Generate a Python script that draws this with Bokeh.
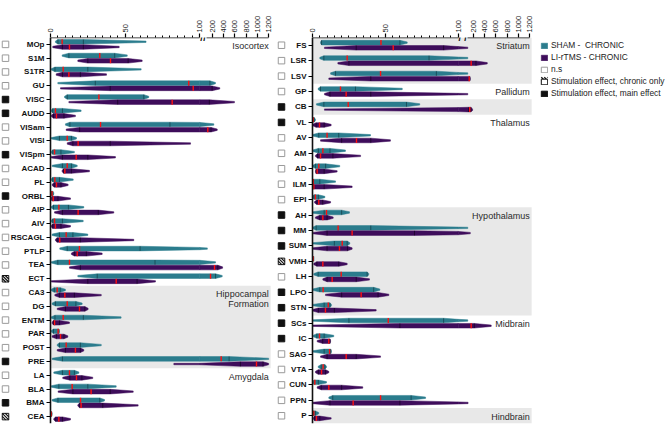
import numpy as np
from bokeh.plotting import figure
from bokeh.models import Range1d, FixedTicker, LinearAxis, Label, Legend, LegendItem
from bokeh.layouts import row
from bokeh.embed import file_html
from bokeh.resources import INLINE
from bokeh.core.properties import value

# ---------------- data ----------------
AXIS_TITLE = "C-Fos⁺ Density (cells/mm²)"
X_LABELED = [0, 50, 100, 200, 400, 600, 800, 1000, 1200]
X_MINOR = list(range(5, 100, 5))

LEFT_REGIONS = ["MOp", "S1M", "S1TR", "GU", "VISC", "AUDD", "VISam", "VISl", "VISpm", "ACAD",
                "PL", "ORBL", "AIP", "AIV", "RSCAGL", "PTLP", "TEA", "ECT", "CA3", "DG",
                "ENTM", "PAR", "POST", "PRE", "LA", "BLA", "BMA", "CEA"]
LEFT_EFFECT = ["ns", "ns", "ns", "ns", "main", "main", "ns", "ns", "main", "ns",
               "ns", "main", "ns", "ns", "ns", "ns", "ns", "chronic", "ns", "ns",
               "ns", "ns", "ns", "main", "ns", "ns", "main", "chronic"]
# (min, q1, median, q3, max)
LEFT_SHAM = [(3.3, 5, 7.8, 22, 64), (7.8, 12.3, 33, 43, 51.4), (0.5, 3, 8.5, 25, 60.7),
             (4.9, 30, 92.6, 160, 259), (9.4, 11.2, 32.4, 62.5, 65.8), (0.5, 1.5, 3.3, 8, 20.5),
             (10, 13, 33.5, 80, 230), (0.5, 6, 11.2, 14, 17.4), (0.5, 1.5, 2.7, 7, 16),
             (1.1, 8, 11.2, 14, 17.9), (0.5, 1.5, 2.9, 6, 15.2), (0.3, 0.6, 1, 1.5, 2.2),
             (0.5, 2, 5.6, 12, 22.3), (0.5, 1.5, 2.7, 8, 21.9), (1.1, 6, 10.5, 15, 25),
             (6.2, 11.2, 19.4, 60, 115), (0.5, 4.9, 12.7, 70, 260), (18.3, 31.3, 171, 260, 378),
             (0.5, 2.5, 4.5, 6.5, 10), (1.1, 3.3, 11.2, 17, 21.2), (0.5, 3, 8.5, 22, 47.3),
             (0.5, 2, 5.1, 5.6, 6), (4.5, 6, 10.5, 20, 34), (1.1, 8, 360, 500, 1200),
             (2.2, 8, 12.7, 16, 19), (0.5, 5.6, 14.5, 25, 44), (1.1, 5, 20.1, 33, 36.2),
             (0.0, 0.3, 0.5, 0.8, 1.1)]
LEFT_LITMS = [(1.5, 8, 12.7, 22, 46), (18.3, 25, 40.2, 52, 61.4), (3.8, 8, 12.3, 20, 37.5),
              (6.7, 40, 95.6, 200, 335), (12.3, 45, 81.5, 150, 595), (0.5, 2, 4, 9, 16.7),
              (10.5, 19.5, 123, 180, 290), (11.2, 15, 18.5, 40, 93.8), (0.5, 8, 17.2, 25, 43.5),
              (7.8, 8.8, 9.6, 14, 26.1), (1.1, 2.5, 4, 7, 11.8), (0.5, 1, 1.8, 5, 13.4),
              (2.7, 8, 18.5, 32, 42.4), (0.5, 1.5, 3.3, 7, 13.4), (3.3, 4.5, 6.2, 20, 55.8),
              (14, 16, 17.9, 24, 34.6), (12.7, 20, 242, 300, 385), (0.5, 25, 44, 58, 70.3),
              (2.9, 6, 9.6, 16, 34), (4.5, 10, 19.4, 23, 25.2), (1.1, 2, 2.7, 6, 12.7),
              (1.1, 4, 6.7, 9, 11.6), (4.5, 10, 16.7, 20, 22.3), (82.6, 700, 985, 1100, 1200),
              (8.2, 13, 17.4, 21, 28.3), (5.1, 15, 27.2, 40, 55.4), (18.3, 19.5, 20.5, 35, 58.7),
              (2.2, 3.5, 5.6, 8, 13.4)]
LEFT_GROUPS = [("Isocortex", 0, 17, False), ("Hippocampal\nFormation", 18, 23, True),
               ("Amygdala", 24, 27, False)]

RIGHT_REGIONS = ["FS", "LSR", "LSV", "GP", "CB", "VL", "AV", "AM", "AD", "ILM", "EPI", "AH",
                 "MM", "SUM", "VMH", "LH", "LPO", "STN", "SCs", "IC", "SAG", "VTA", "CUN",
                 "PPN", "P"]
RIGHT_EFFECT = ["ns", "ns", "ns", "ns", "main", "main", "ns", "ns", "ns", "ns", "ns", "main",
                "main", "main", "chronic", "ns", "main", "main", "main", "main", "ns", "ns",
                "ns", "ns", "ns"]
RIGHT_SHAM = [(5.5, 6.2, 47, 60, 65), (5, 7.8, 23.8, 80, 105), (12.4, 15.8, 46.7, 85, 105),
              (3.9, 5.5, 19.2, 29.5, 61.6), (2.7, 7.8, 24.5, 64.5, 73.6), (0, 0.3, 0.5, 1.2, 2),
              (0, 4.3, 10, 18, 39.8), (0, 4, 7.1, 12, 22.6), (0, 2, 4.3, 9, 18.7),
              (0, 0.3, 0.5, 5, 15.8), (0, 1, 2, 4, 8.5), (0, 8, 9.6, 20, 25.4),
              (0, 2.5, 17.6, 40, 105), (0.2, 15, 20.4, 23.8, 25.6), (0, 0.2, 0.4, 0.6, 0.9),
              (0.9, 3.9, 19.7, 37.5, 38.6), (0, 5, 7.3, 42, 46.2), (0.2, 8, 10.8, 12, 13),
              (0, 25, 52, 90, 105), (0.5, 3, 4.8, 8, 14.6), (0, 8, 11.7, 12.5, 13),
              (3.9, 6, 7.3, 8.5, 9.6), (0.5, 1, 1.6, 4, 9.6), (11.2, 13.9, 46.7, 67.7, 77.6),
              (0, 0.5, 0.9, 2, 4.3)]
RIGHT_LITMS = [(8.2, 30, 55.4, 90, 105), (17.4, 25, 165, 250, 450), (11.2, 40, 130, 140, 150),
               (8.2, 12, 23.1, 40, 105), (8.2, 120, 140, 160, 190), (0, 2.5, 4.8, 8, 12.8),
               (5.5, 20, 30.2, 40, 53.5), (2, 3.5, 5.5, 14, 33), (2, 2.5, 3.2, 8, 16.9),
               (0, 0.5, 0.9, 8, 27.2), (1.4, 3, 4.3, 7, 12.4), (2, 5, 7.1, 10, 14.2),
               (0, 10, 27.2, 70, 150), (0, 10, 18.5, 24, 27.2), (0.9, 3, 7.1, 18, 23.8),
               (7.1, 10, 13.5, 30, 39.1), (8.9, 20, 33.4, 45, 52.4), (0, 4, 8.9, 15, 43.7),
               (0, 60, 165, 220, 520), (3.2, 7, 11.2, 12, 12.4), (5.5, 10, 23.1, 30, 46.7),
               (2, 4, 6.2, 9, 11.2), (3.2, 6, 11.2, 20, 34.5), (0, 12, 27.9, 60, 110),
               (0.5, 1.5, 2.7, 5, 12.8)]
RIGHT_GROUPS = [("Striatum", 0, 2, True), ("Pallidum", 3, 3, False), ("", 4, 4, True),
                ("Thalamus", 5, 10, False), ("Hypothalamus", 11, 17, True),
                ("Midbrain", 18, 23, False), ("Hindbrain", 24, 24, True)]

SERIES = ["SHAM -  CHRONIC", "LI-rTMS - CHRONIC"]
EFFECT_ORDER = ["ns", "chronic", "main"]
EFFECT_NAMES = {"ns": "n.s", "chronic": "Stimulation effect, chronic only",
                "main": "Stimulation effect, main effect"}

# ---------------- style ----------------
TEAL = "#2b7c8d"
PURPLE = "#3e0d5b"
BAND = "#e8e8e8"
FONT = "Liberation Sans"
FIG_H = 424
TOP = 37
BOTTOM = 1
FRAME_H = FIG_H - TOP - BOTTOM
PX2 = 0.0565      # px per unit, 100-1200 segment
MK = 6.5          # marker square size, px
LG_GW, LG_GH, LG_LH, LG_SP = 8, 7, 10, 2   # legend glyph w/h, label height, spacing


def make_map(px1, gap):
    def f(v):
        if v <= 100:
            return v * px1
        return 100 * px1 + gap + (v - 100) * PX2
    return f


def stripes(x0, y0, w, h, cs):
    """diagonal '\\' stripes inside a box given in px (x right, y down)."""
    out = []
    for c in cs:
        xa, xb = max(0.0, c), min(w, h + c)
        if xb > xa:
            out.append((x0 + xa, y0 + xa - c, x0 + xb, y0 + xb - c))
    return out


def violin_polys(stats, yc, f, half_px, row_px):
    kv = np.array(stats, float)
    kw = np.array([0.3, 1.0, 1.0, 1.0, 0.3])
    mn, mx = kv[0], kv[4]
    spans = []
    if mn < 100:
        spans.append((mn, min(mx, 100.0)))
    if mx > 100:
        spans.append((max(mn, 100.0), mx))
    out = []
    for a, b in spans:
        vs = [a] + [k for k in kv if a < k < b] + [b]
        xs = [f(v) for v in vs]
        hw = [float(np.interp(v, kv, kw)) * half_px / row_px for v in vs]
        if xs[-1] - xs[0] < 1.5:
            xs = [xs[0], xs[0] + 1.5]
            hw = [max(max(hw), 1.2 / row_px)] * 2
        out.append((xs + xs[::-1], [yc - h for h in hw] + [yc + h for h in hw[::-1]]))
    return out


def build_panel(regions, effects, sham, litms, groups, width, axis_px, px1, gap, marker_x,
                legend_at=None):
    n = len(regions)
    f = make_map(px1, gap)
    row_px = FRAME_H / n
    p = figure(width=width, height=FIG_H, output_backend="svg", toolbar_location=None,
               x_range=Range1d(-axis_px, width - axis_px), y_range=Range1d(n - 0.5, -0.5),
               x_axis_location="above", min_border_left=0, min_border_right=0,
               min_border_top=TOP, min_border_bottom=BOTTOM)
    p.outline_line_color = None
    p.grid.visible = False
    xend = f(1200)

    def ydat(px_from_top):
        return px_from_top / row_px - 0.5

    # grey bands + region names
    for name, s, e, grey in groups:
        if grey:
            p.quad(left=[0], right=[xend + 2], top=[s - 0.5], bottom=[e + 0.5],
                   fill_color=BAND, line_color=None)
        for k, line in enumerate(name.split("\n")):
            if line:
                p.text(x=[xend], y=[s - 0.5 + (8.5 + 10 * k) / row_px], text=[line],
                       text_align="right", text_baseline="middle", text_font=value(FONT),
                       text_font_size="9px", text_color="#2a2a2a")

    # violins
    renderers = []
    for stats_list, off, color, qcol in [(sham, -2.6, TEAL, "#123c45"), (litms, 2.6, PURPLE, "#14021f")]:
        pxs, pys, mx0, my0, my1, qx, qy0, qy1 = [], [], [], [], [], [], [], []
        for i, st in enumerate(stats_list):
            yc = i + off / row_px
            for xs, ys in violin_polys(st, yc, f, 2.3, row_px):
                pxs.append(xs)
                pys.append(ys)
            kv = np.array(st, float)
            kw = np.array([0.3, 1.0, 1.0, 1.0, 0.3])
            for q in (st[1], st[3]):
                h = float(np.interp(q, kv, kw)) * 2.3 / row_px
                qx.append(f(q)); qy0.append(yc - h); qy1.append(yc + h)
            h = 2.5 / row_px
            mx0.append(f(st[2])); my0.append(yc - h); my1.append(yc + h)
        r = p.patches(xs=pxs, ys=pys, fill_color=color, line_color=color, line_width=0.5)
        renderers.append(r)
        p.segment(x0=qx, y0=qy0, x1=qx, y1=qy1, line_color=qcol, line_width=1, line_alpha=0.7)
        p.segment(x0=mx0, y0=my0, x1=mx0, y1=my1, line_color="#ff1010", line_width=1.4)

    # significance markers
    styles = {"ns": dict(fill_color="white", line_color="#9a9a9a"),
              "chronic": dict(fill_color="white", line_color="#111111"),
              "main": dict(fill_color="#111111", line_color="#111111")}
    marker_r = {}
    for kind, sty in styles.items():
        ys = [i for i, e in enumerate(effects) if e == kind]
        if ys:
            marker_r[kind] = p.rect(x=[marker_x] * len(ys), y=ys, width=MK, height=MK,
                                    width_units="screen", height_units="screen", line_width=1, **sty)
    segs = []
    for i, e in enumerate(effects):
        if e == "chronic":
            segs += [(x0, i + (y0 - MK / 2) / row_px, x1, i + (y1 - MK / 2) / row_px)
                     for x0, y0, x1, y1 in stripes(marker_x - MK / 2, 0, MK, MK, (-3.0, 0.0, 3.0))]

    # x axis ticks, axis line as two bounded pieces
    xa = p.xaxis[0]
    ticks = [round(f(v), 4) for v in X_LABELED]
    minors = [round(f(v), 4) for v in X_MINOR if v not in X_LABELED]
    xa.ticker = FixedTicker(ticks=ticks, minor_ticks=minors)
    xa.major_label_overrides = {t: str(v) for t, v in zip(ticks, X_LABELED)}
    xa.bounds = (0, xend)
    xa.axis_line_color = None
    xa.major_tick_out = 4
    xa.major_tick_in = 0
    xa.minor_tick_out = 2
    xa.minor_tick_in = 0
    xa.major_tick_line_width = 1.2
    xa.minor_tick_line_width = 1
    xa.major_label_orientation = "vertical"
    xa.major_label_standoff = 1
    xa.major_label_text_font = FONT
    xa.major_label_text_font_size = "7.5px"
    xa.major_label_text_color = "#1a1a1a"
    for lo, hi in [(0, f(100)), (f(100) + gap, xend)]:
        ax = LinearAxis(fixed_location=-0.5, bounds=(lo, hi), ticker=FixedTicker(ticks=[]),
                        axis_line_width=1.6, axis_line_color="#111111",
                        major_tick_line_color=None, minor_tick_line_color=None)
        p.add_layout(ax, "above")
    for dx in (1.8, gap - 1.8):
        p.add_layout(Label(x=f(100) + dx, y=-0.5, text="/", text_font=FONT, text_font_size="10px",
                           text_font_style="bold", text_align="center", text_baseline="middle",
                           text_color="#111111"))
    # axis title, centred over the axis
    p.add_layout(Label(x=xend / 2, y=-0.5 - 27 / row_px, text=AXIS_TITLE, text_font=FONT,
                       text_font_size="9.5px", text_font_style="bold", text_align="center",
                       text_baseline="middle", text_color="#1a1a1a"))

    # y axis with region names, placed at x = 0
    ya = p.yaxis[0]
    ya.fixed_location = 0
    ya.ticker = FixedTicker(ticks=list(range(n)))
    ya.major_label_overrides = {i: r for i, r in enumerate(regions)}
    ya.minor_tick_line_color = None
    ya.major_tick_out = 4
    ya.major_tick_in = 0
    ya.major_tick_line_width = 1.2
    ya.axis_line_width = 1.6
    ya.axis_line_color = "#111111"
    ya.major_label_standoff = 2
    ya.major_label_text_font = FONT
    ya.major_label_text_font_size = "8px"
    ya.major_label_text_font_style = "bold"
    ya.major_label_text_color = "#111111"

    if legend_at is not None:
        items = [LegendItem(label=SERIES[0], renderers=[renderers[0]]),
                 LegendItem(label=SERIES[1], renderers=[renderers[1]])]
        items += [LegendItem(label=EFFECT_NAMES[k], renderers=[marker_r[k]]) for k in EFFECT_ORDER]
        lg = Legend(items=items, location=legend_at, glyph_width=LG_GW, glyph_height=LG_GH,
                    label_height=LG_LH, label_standoff=3, spacing=LG_SP, padding=0, margin=0,
                    label_text_font=FONT, label_text_font_size="8.4px", label_text_color="#222222",
                    background_fill_alpha=0, border_line_color=None)
        p.add_layout(lg, "center")
        # stripes on the "chronic only" legend swatch (legend glyph box has a 10% inset)
        lg_h = len(items) * LG_LH + (len(items) - 1) * LG_SP
        top_px = FRAME_H - legend_at[1] - lg_h + EFFECT_ORDER.index("chronic") * 0 \
            + (2 + EFFECT_ORDER.index("chronic")) * (LG_LH + LG_SP)
        bx = -axis_px + legend_at[0] + 0.1 * LG_GW
        by = top_px + 0.1 * LG_GH
        bw, bh = 0.8 * LG_GW, 0.8 * LG_GH
        segs += [(x0, ydat(y0), x1, ydat(y1))
                 for x0, y0, x1, y1 in stripes(bx, by, bw, bh, (-3.0, 0.0, 3.0, 6.0))]
    if segs:
        s0, s1, s2, s3 = zip(*segs)
        p.segment(x0=list(s0), y0=list(s1), x1=list(s2), y1=list(s3), line_color="#111111",
                  line_width=1.3, level="overlay")
    return p


left = build_panel(LEFT_REGIONS, LEFT_EFFECT, LEFT_SHAM, LEFT_LITMS, LEFT_GROUPS,
                   width=274, axis_px=50, px1=1.493, gap=6.7, marker_x=-45)
right = build_panel(RIGHT_REGIONS, RIGHT_EFFECT, RIGHT_SHAM, RIGHT_LITMS, RIGHT_GROUPS,
                    width=394, axis_px=38, px1=1.457, gap=9.3, marker_x=-31,
                    legend_at=(266, 325))

layout = row(left, right)
open("out.html", "w").write(file_html(layout, INLINE))
